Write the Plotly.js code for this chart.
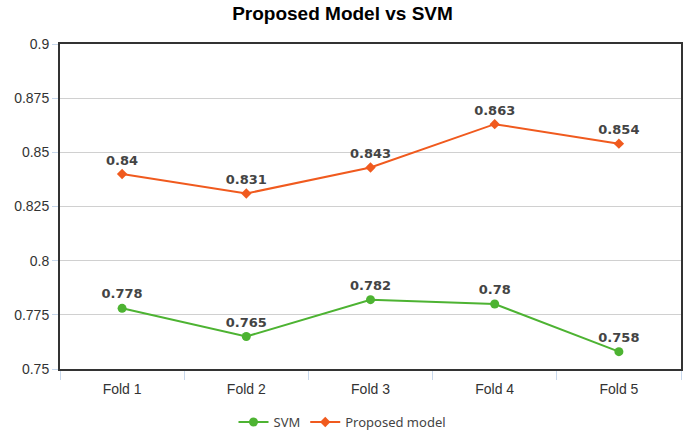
<!DOCTYPE html>
<html><head><meta charset="utf-8">
<script src="https://cdn.plot.ly/plotly-3.0.1.min.js"></script>
<style>body{margin:0;background:#fff}#c{width:685px;height:437px}</style>
</head><body><div id="c"></div>
<script>
const folds = ["Fold 1","Fold 2","Fold 3","Fold 4","Fold 5"];
const svm = [0.778, 0.765, 0.782, 0.78, 0.758];
const proposed = [0.84, 0.831, 0.843, 0.863, 0.854];
const yTickVals = [0.75, 0.775, 0.8, 0.825, 0.85, 0.875, 0.9];
const yTickText = ["0.75","0.775","0.8","0.825","0.85","0.875","0.9"];

const labelFont = {family:"DejaVu Sans, Liberation Sans, sans-serif", size:13, color:"#444", weight:"bold"};
const traces = [
  {x:folds, y:svm, name:"SVM", type:"scatter", mode:"lines+markers+text",
   line:{color:"#4db332", width:2}, marker:{symbol:"circle", size:9, color:"#4db332"},
   text:svm.map(String), textposition:"top center", textfont:labelFont, cliponaxis:false},
  {x:folds, y:proposed, name:"Proposed model", type:"scatter", mode:"lines+markers+text",
   line:{color:"#f05a1e", width:2}, marker:{symbol:"diamond", size:8, color:"#f05a1e"},
   text:proposed.map(String), textposition:"top center", textfont:labelFont, cliponaxis:false}
];
const layout = {
  width:685, height:437,
  margin:{l:60, r:4, t:44, b:68},
  paper_bgcolor:"#fff", plot_bgcolor:"#fff",
  font:{family:"Liberation Sans, Arial, sans-serif", color:"#333"},
  title:{text:"Proposed Model vs SVM", x:0.5, xanchor:"center", y:0.985, yanchor:"top",
         font:{size:19, weight:"bold", color:"#000"}},
  xaxis:{type:"category", range:[-0.5,4.5], showgrid:false, zeroline:false, showline:true, mirror:true,
         linecolor:"#333", linewidth:2, ticks:"outside", tickson:"boundaries",
         tickcolor:"#c8d8ec", ticklen:9, tickwidth:1, ticklabelstandoff:6,
         tickfont:{size:14, color:"#333"}},
  yaxis:{range:[0.75,0.9], tickvals:yTickVals, ticktext:yTickText, showgrid:true,
         gridcolor:"#d0d0d0", gridwidth:1, zeroline:false, showline:true, mirror:true,
         linecolor:"#333", linewidth:2, ticks:"outside", tickcolor:"#c8d8ec", ticklen:6,
         tickfont:{size:14, color:"#333"}},
  showlegend:true,
  legend:{orientation:"h", x:0.5, xanchor:"center", xref:"container", yref:"container",
          y:-0.012, yanchor:"bottom", itemwidth:30,
          font:{family:"Noto Sans, sans-serif", size:13, color:"#444"}}
};
Plotly.newPlot("c", traces, layout, {displayModeBar:false, staticPlot:true});
</script></body></html>
